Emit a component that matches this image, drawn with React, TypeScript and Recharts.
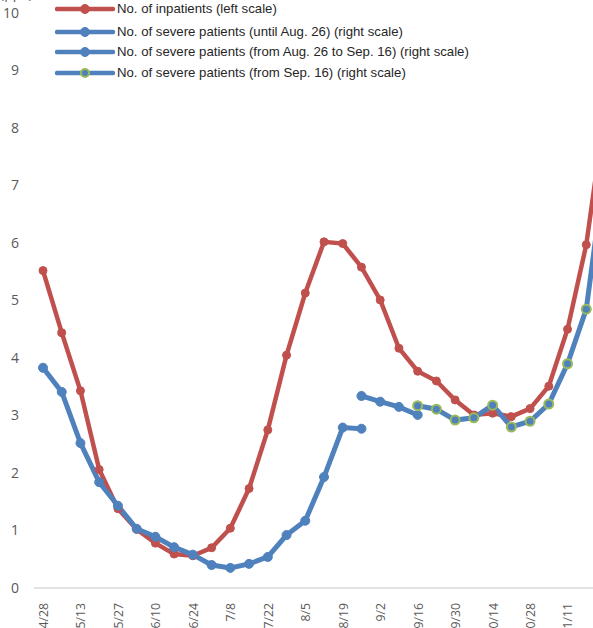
import React from "react";
import { LineChart, Line, XAxis, YAxis } from "recharts";

const categories = [
  "4/28", "5/6", "5/13", "5/20", "5/27", "6/3", "6/10", "6/17", "6/24", "7/1",
  "7/8", "7/15", "7/22", "7/29", "8/5", "8/12", "8/19", "8/26", "9/2", "9/9",
  "9/16", "9/23", "9/30", "10/7", "10/14", "10/21", "10/28", "11/4", "11/11", "11/18", "11/25",
];

const inpatients = [
  5.52, 4.44, 3.43, 2.06, 1.38, 1.02, 0.78, 0.59, 0.56, 0.7,
  1.04, 1.73, 2.75, 4.05, 5.13, 6.02, 5.99, 5.58, 5.01, 4.17,
  3.77, 3.6, 3.27, 3.01, 3.04, 2.98, 3.12, 3.51, 4.5, 5.97, 8.3,
];

const severeUntilAug26 = [
  3.83, 3.41, 2.52, 1.84, 1.43, 1.03, 0.89, 0.71, 0.58, 0.4,
  0.35, 0.42, 0.54, 0.92, 1.17, 1.93, 2.79, 2.77,
];

const severeAug26toSep16 = [3.34, 3.24, 3.15, 3.01];
const severeAug26Start = 17;

const severeFromSep16 = [3.17, 3.11, 2.92, 2.96, 3.18, 2.8, 2.9, 3.2, 3.9, 4.85, 7.3];
const severeSep16Start = 20;

const yTicks = [0, 1, 2, 3, 4, 5, 6, 7, 8, 9, 10];

const legendLabels = [
  "No. of inpatients (left scale)",
  "No. of severe patients (until Aug. 26) (right scale)",
  "No. of severe patients (from Aug. 26 to Sep. 16) (right scale)",
  "No. of severe patients (from Sep. 16) (right scale)",
];

const RED = "#c0504d";
const BLUE = "#4f81bd";
const GREEN = "#9bbb59";

const data = categories.map((c, i) => ({
  date: c,
  inpatients: inpatients[i] ?? null,
  s1: i < severeUntilAug26.length ? severeUntilAug26[i] : null,
  s2:
    i >= severeAug26Start && i < severeAug26Start + severeAug26toSep16.length
      ? severeAug26toSep16[i - severeAug26Start]
      : null,
  s3:
    i >= severeSep16Start && i < severeSep16Start + severeFromSep16.length
      ? severeFromSep16[i - severeSep16Start]
      : null,
}));

const FONT = "'Liberation Sans', Arial, sans-serif";
const TICK_FONT = "'Open Sans', 'Liberation Sans', sans-serif";

const XTick = (props: any) => {
  const { x, y, payload } = props;
  return (
    <g transform={`translate(${x},${y})`}>
      <text
        transform="rotate(-90)"
        x={-7}
        y={0}
        dy="0.4em"
        textAnchor="end"
        fill="#595959"
        fontSize={12.3}
        fontFamily={TICK_FONT}
      >
        {payload.value}
      </text>
    </g>
  );
};

const YTick = (props: any) => {
  const { y, payload } = props;
  return (
    <text
      x={19}
      y={y}
      dy="0.35em"
      textAnchor="end"
      fill="#595959"
      fontSize={14}
      fontFamily={TICK_FONT}
    >
      {payload.value}
    </text>
  );
};

const rowYs = [9, 32, 52, 73];
const legendColors = [RED, BLUE, BLUE, BLUE];

const LegendBlock = () => (
  <div style={{ position: "absolute", left: 0, top: 0, width: 500, height: 90 }}>
    {legendLabels.map((label, i) => (
      <div key={label}>
        <svg
          width={60}
          height={14}
          style={{ position: "absolute", left: 55, top: rowYs[i] - 7 }}
        >
          <line x1={2} y1={7} x2={58} y2={7} stroke={legendColors[i]} strokeWidth={4.5} strokeLinecap="round" />
          <circle
            cx={30}
            cy={7}
            r={i === 3 ? 4 : 4.5}
            fill={legendColors[i]}
            stroke={i === 3 ? GREEN : legendColors[i]}
            strokeWidth={i === 3 ? 2 : 1}
          />
        </svg>
        <span
          style={{
            position: "absolute",
            left: 117,
            top: rowYs[i] - 9,
            fontSize: 13.2,
            lineHeight: "18px",
            fontFamily: FONT,
            color: "#262626",
            whiteSpace: "nowrap",
          }}
        >
          {label}
        </span>
      </div>
    ))}
  </div>
);

export default function App() {
  return (
    <div
      style={{
        position: "fixed",
        left: 0,
        top: 0,
        width: 593,
        height: 628,
        overflow: "hidden",
        background: "#fff",
      }}
    >
      <LineChart
        width={624}
        height={648}
        data={data}
        margin={{ top: 13, right: 10, bottom: 0, left: 0 }}
      >
        <XAxis
          dataKey="date"
          interval={1}
          tick={<XTick />}
          tickLine={false}
          axisLine={{ stroke: "#d9d9d9", strokeWidth: 1.5 }}
          padding={{ left: 9, right: 9 }}
          height={60}
        />
        <YAxis
          domain={[0, 10]}
          ticks={yTicks}
          width={34}
          axisLine={false}
          tickLine={false}
          tick={<YTick />}
        />
        <Line
          dataKey="inpatients"
          stroke={RED}
          strokeWidth={4.5}
          dot={{ r: 4, fill: RED, stroke: RED, strokeWidth: 1 }}
          isAnimationActive={false}
        />
        <Line
          dataKey="s1"
          stroke={BLUE}
          strokeWidth={5}
          dot={{ r: 4.5, fill: BLUE, stroke: BLUE, strokeWidth: 1 }}
          isAnimationActive={false}
        />
        <Line
          dataKey="s2"
          stroke={BLUE}
          strokeWidth={5}
          dot={{ r: 4.5, fill: BLUE, stroke: BLUE, strokeWidth: 1 }}
          isAnimationActive={false}
        />
        <Line
          dataKey="s3"
          stroke={BLUE}
          strokeWidth={5}
          dot={{ r: 4.5, fill: BLUE, stroke: GREEN, strokeWidth: 2 }}
          isAnimationActive={false}
        />
      </LineChart>
      <LegendBlock />
      <span
        style={{
          position: "absolute",
          left: 0,
          top: -17,
          fontSize: 14,
          fontFamily: TICK_FONT,
          color: "#595959",
        }}
      >
        (ppl.)
      </span>
    </div>
  );
}
